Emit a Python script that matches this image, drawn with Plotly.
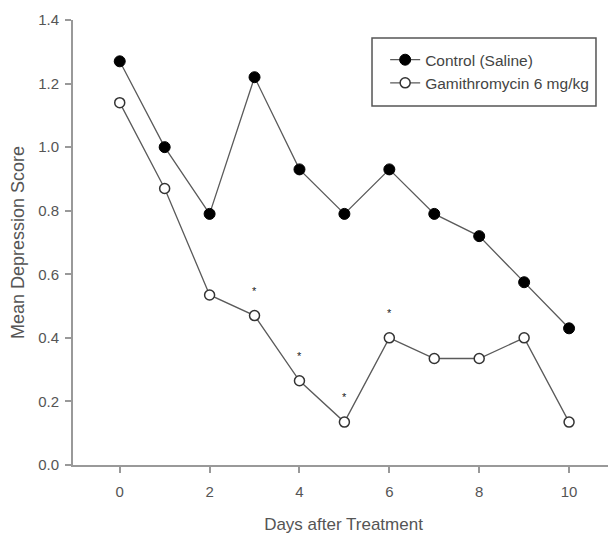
import plotly.graph_objects as go

days = [0, 1, 2, 3, 4, 5, 6, 7, 8, 9, 10]
control = [1.27, 1.00, 0.79, 1.22, 0.93, 0.79, 0.93, 0.79, 0.72, 0.575, 0.43]
gamithro = [1.14, 0.87, 0.535, 0.47, 0.265, 0.135, 0.40, 0.335, 0.335, 0.40, 0.135]
star_days = [3, 4, 5, 6]
x_ticks = [0, 2, 4, 6, 8, 10]
y_ticks = [0.0, 0.2, 0.4, 0.6, 0.8, 1.0, 1.2, 1.4]

font_family = "Liberation Sans, Arial, sans-serif"
line_col = "#5a5a5a"

fig = go.Figure()
fig.add_trace(go.Scatter(
    x=days, y=control, name="Control (Saline)", mode="lines+markers",
    legendgroup="a",
    line=dict(color=line_col, width=1.3),
    marker=dict(symbol="circle", size=11, color="#000000",
                line=dict(color="#000000", width=1)),
))
fig.add_trace(go.Scatter(
    x=days, y=gamithro, name="Gamithromycin 6 mg/kg", mode="lines+markers",
    legendgroup="b",
    line=dict(color=line_col, width=1.3),
    marker=dict(symbol="circle", size=10, color="#ffffff",
                line=dict(color="#333333", width=1.5)),
))

for d in star_days:
    fig.add_annotation(x=d, y=gamithro[days.index(d)], text="*", showarrow=False,
                       yanchor="middle", yshift=25,
                       font=dict(family=font_family, size=11, color="#222222"))

# legend frame
fig.add_shape(type="rect", xref="paper", yref="paper",
              x0=0.5527, x1=0.9667, y0=0.8067, y1=0.9596,
              line=dict(color="#555555", width=1.5), fillcolor="rgba(0,0,0,0)")

fig.update_layout(
    width=608, height=529,
    margin=dict(l=65, r=2, t=12, b=72),
    paper_bgcolor="white", plot_bgcolor="white",
    font=dict(family=font_family, color="#555555"),
    showlegend=True,
    legend=dict(x=0.577, y=0.948, xanchor="left", yanchor="top",
                borderwidth=0, bgcolor="rgba(0,0,0,0)",
                font=dict(family=font_family, size=15.5, color="#444444"),
                tracegroupgap=0),
    xaxis=dict(range=[-1.04, 11.0], tickvals=x_ticks, ticktext=[str(t) for t in x_ticks],
               showline=True, linecolor="#999999", linewidth=2, showgrid=False,
               zeroline=False, ticks="outside", ticklen=6, tickcolor="#999999", tickwidth=1.5,
               ticklabelstandoff=6,
               tickfont=dict(size=15, color="#555555"),
               title=dict(text="Days after Treatment", font=dict(size=17, color="#555555"), standoff=19)),
    yaxis=dict(range=[0, 1.4], tickvals=y_ticks, ticktext=[f"{t:.1f}" for t in y_ticks],
               showline=True, linecolor="#999999", linewidth=2, showgrid=False,
               zeroline=False, ticks="outside", ticklen=6, tickcolor="#999999", tickwidth=1.5,
               ticklabelstandoff=3,
               tickfont=dict(size=15, color="#555555"),
               title=dict(text="Mean Depression Score", font=dict(size=18, color="#555555"), standoff=16)),
)

fig.write_html("out.html")
